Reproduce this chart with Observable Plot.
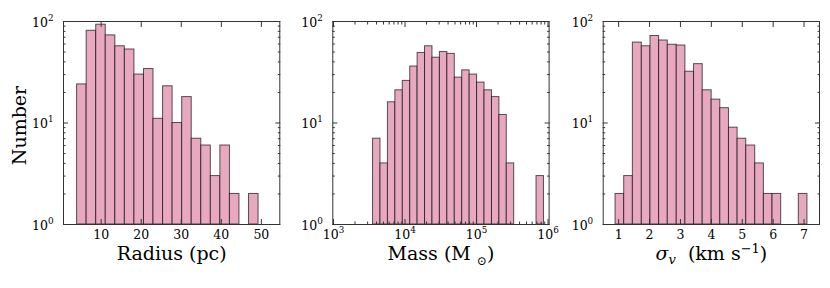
<!DOCTYPE html>
<html><head><meta charset="utf-8">
<script src="https://cdn.jsdelivr.net/npm/d3@7"></script>
<script src="https://cdn.jsdelivr.net/npm/@observablehq/plot@0.6"></script>
<style>
body{margin:0;background:#fff;}
#wrap{position:relative;width:830px;height:288px;overflow:hidden;background:#fff;}
#wrap svg{position:absolute;top:0;overflow:visible;}
</style></head><body><div id="wrap"></div>
<script>
// ---- data ----
const radiusEdges = [4.0, 6.38, 8.77, 11.15, 13.54, 15.92, 18.31, 20.69, 23.07, 25.46, 27.84, 30.23, 32.61, 35.0, 37.38, 39.76, 42.15, 44.53, 46.92, 49.3];
const radiusCounts = [24, 81, 93, 73, 57, 53, 30, 34, 11, 23, 10, 18, 7, 6, 3, 6, 2, 0, 2];

const massLogEdges = [3.553, 3.657, 3.761, 3.865, 3.969, 4.073, 4.176, 4.280, 4.384, 4.488, 4.592, 4.696, 4.800, 4.904, 5.008, 5.112, 5.216, 5.320, 5.423, 5.527, 5.631, 5.735, 5.839, 5.943];
const massCounts = [7, 4, 16, 21, 26, 36, 49, 57, 44, 50, 48, 28, 33, 30, 25, 21, 18, 12, 4, 0, 0, 0, 3];

const sigmaEdges = [0.90, 1.18, 1.46, 1.75, 2.03, 2.31, 2.59, 2.88, 3.16, 3.44, 3.72, 4.01, 4.29, 4.57, 4.85, 5.13, 5.42, 5.70, 5.98, 6.26, 6.54, 6.83, 7.11];
const sigmaCounts = [2, 3, 62, 57, 72, 65, 59, 58, 32, 38, 21, 17, 14, 9, 7, 6, 4, 2, 2, 0, 0, 2];

const yMajor = [1, 10, 100];
const yMinor = [2, 3, 4, 5, 6, 7, 8, 9, 20, 30, 40, 50, 60, 70, 80, 90];
const radiusTicks = [10, 20, 30, 40, 50];
const massMajor = [1e3, 1e4, 1e5, 1e6];
const massMinor = [2e3, 3e3, 4e3, 5e3, 6e3, 7e3, 8e3, 9e3, 2e4, 3e4, 4e4, 5e4, 6e4, 7e4, 8e4, 9e4, 2e5, 3e5, 4e5, 5e5, 6e5, 7e5, 8e5, 9e5];
const sigmaTicks = [1, 2, 3, 4, 5, 6, 7];

const FILL = "#e8a9c0", EDGE = "#000", AX = "#333";
const FONT = "DejaVu Serif";
const LABEL_FS = 19;

const powFmt = d => "10^" + Math.round(Math.log10(d));

function binData(edges, counts, tr = v => v) {
  return counts.map((n, i) => ({x1: tr(edges[i]), x2: tr(edges[i + 1]), y1: 1, n})).filter(d => d.n > 0);
}

function panel({left, marginLeft, width, xScale, data, xMajor, xMinor, xFormat, ylabel, xlabelId}) {
  const marks = [
    Plot.rect(data, {x1: "x1", x2: "x2", y1: "y1", y2: "n", fill: FILL, stroke: EDGE, strokeOpacity: 0.65, strokeWidth: 1}),
    Plot.frame({stroke: AX, strokeWidth: 1}),
    Plot.axisY({ticks: yMajor, anchor: "left", tickSize: -5, tickFormat: () => "", label: null, stroke: AX}),
    Plot.axisY({ticks: yMajor, anchor: "right", tickSize: -5, tickFormat: () => "", label: null, stroke: AX}),
    Plot.axisY({ticks: yMinor, anchor: "left", tickSize: -2.5, tickFormat: () => "", label: null, stroke: AX}),
    Plot.axisY({ticks: yMinor, anchor: "right", tickSize: -2.5, tickFormat: () => "", label: null, stroke: AX}),
    Plot.axisY({ticks: yMajor, anchor: "left", tickSize: 0, tickPadding: 10, tickFormat: powFmt, label: null, fontSize: 12.5, dy: 1, fill: "#000"}),
    Plot.axisX({ticks: xMajor, anchor: "bottom", tickSize: -5, tickFormat: () => "", label: null, stroke: AX}),
    Plot.axisX({ticks: xMajor, anchor: "top", tickSize: -5, tickFormat: () => "", label: null, stroke: AX}),
    Plot.axisX({ticks: xMajor, anchor: "bottom", tickSize: 0, tickPadding: 6, tickFormat: xFormat, label: null, fontSize: 12.5, fill: "#000"})
  ];
  if (xMinor) {
    marks.push(Plot.axisX({ticks: xMinor, anchor: "bottom", tickSize: -2.5, tickFormat: () => "", label: null, stroke: AX}));
    marks.push(Plot.axisX({ticks: xMinor, anchor: "top", tickSize: -2.5, tickFormat: () => "", label: null, stroke: AX}));
  }
  marks.push(Plot.text([xlabelId], {frameAnchor: "bottom", lineAnchor: "middle", textAnchor: "middle", dy: 29.5, fontSize: LABEL_FS, fill: "#000"}));
  if (ylabel) marks.push(Plot.text([ylabel], {frameAnchor: "left", lineAnchor: "middle", textAnchor: "middle", dx: -44, dy: 2.5, rotate: -90, fontSize: LABEL_FS, fill: "#000"}));
  const svg = Plot.plot({
    width, height: 288,
    marginLeft, marginRight: width - marginLeft - 216.3, marginTop: 21, marginBottom: 64,
    x: xScale,
    y: {type: "log", domain: [1, 100]},
    style: {fontFamily: FONT, background: "transparent", overflow: "visible", color: "#000"},
    marks
  });
  svg.style.left = left + "px";
  document.getElementById("wrap").appendChild(svg);
  return svg;
}

const p1 = panel({left: 0, marginLeft: 63, width: 290, xScale: {domain: [0.6, 54.6]}, data: binData(radiusEdges, radiusCounts),
  xMajor: radiusTicks, xMinor: null, xFormat: d => String(d), ylabel: "Number", xlabelId: "Radius (pc)"});
const p2 = panel({left: 280, marginLeft: 52.3, width: 290, xScale: {type: "log", domain: [Math.pow(10, 2.99), Math.pow(10, 6.015)]},
  data: binData(massLogEdges, massCounts, e => Math.pow(10, e)), xMajor: massMajor, xMinor: massMinor, xFormat: powFmt, ylabel: null, xlabelId: "MASS"});
const p3 = panel({left: 550, marginLeft: 52.7, width: 290, xScale: {domain: [0.5, 7.5]}, data: binData(sigmaEdges, sigmaCounts),
  xMajor: sigmaTicks, xMinor: null, xFormat: d => String(d), ylabel: null, xlabelId: "SIGMA"});

// superscript tick labels 10^n
d3.selectAll("#wrap svg text").each(function() {
  const t = this.textContent;
  const m = /^10\^(-?\d+)$/.exec(t);
  if (!m) return;
  const el = d3.select(this);
  el.text("");
  el.append("tspan").text("10");
  el.append("tspan").attr("dy", "-6").attr("font-size", "8.8px").text(m[1]);
});

// rich axis labels
function rich(svg, key, parts) {
  d3.select(svg).selectAll("text").filter(function() { return this.textContent === key; }).each(function() {
    const el = d3.select(this);
    el.text("");
    for (const p of parts) {
      const ts = el.append("tspan").text(p.t);
      if (p.dy) ts.attr("dy", p.dy);
      if (p.fs) ts.attr("font-size", p.fs);
      if (p.it) ts.attr("font-style", "italic");
    }
  });
}
rich(p2, "MASS", [{t: "Mass (M "}, {t: "\u2299", dy: 5, fs: "12px"}, {t: ")", dy: -5}]);
rich(p3, "SIGMA", [{t: "\u03c3", it: true}, {t: "v", dy: 4, fs: "13px", it: true}, {t: "  (km s", dy: -4}, {t: "\u22121", dy: -7, fs: "13px"}, {t: ")", dy: 7}]);
</script></body></html>
